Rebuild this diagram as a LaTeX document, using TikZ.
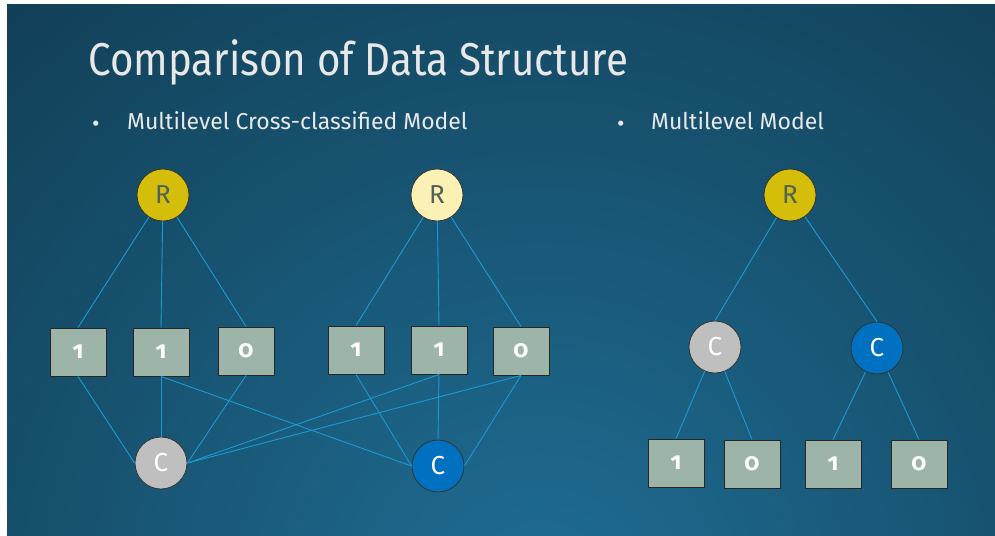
\documentclass[tikz,border=0pt]{standalone}
\usepackage{fontspec}
\setmainfont{Fira Sans}
\newfontfamily\digitfont[Numbers=OldStyle]{Fira Sans}
\definecolor{bgdark}{HTML}{0E3447}
\definecolor{bglight}{HTML}{1F6D94}
\definecolor{edgecol}{HTML}{1A9AD2}
\definecolor{boxfill}{HTML}{9DB5A8}
\definecolor{ryellow}{HTML}{D4BE0A}
\definecolor{rlight}{HTML}{FCF1B4}
\definecolor{cgray}{HTML}{BFBFBF}
\definecolor{cblue}{HTML}{0070C0}
\definecolor{rtext}{HTML}{4F6258}
\definecolor{titletext}{HTML}{E8E8E8}
\tikzset{
  databox/.style={draw=black!85, line width=0.9pt, fill=boxfill, minimum width=56pt, minimum height=48pt, inner sep=0pt, text=white, font=\digitfont\bfseries\fontsize{24}{24}\selectfont},
  rnode/.style={circle, draw=black!80, line width=0.8pt, minimum size=52pt, inner sep=0pt, text=rtext, font=\fontsize{26}{26}\selectfont},
  cnode/.style={rnode, text=white},
  link/.style={draw=edgecol, line width=0.9pt},
  titlestyle/.style={text=titletext, inner sep=0pt, anchor=base west, font=\fontsize{46}{46}\selectfont},
  bulletstyle/.style={text=titletext, inner sep=0pt, anchor=base west, font=\fontsize{23}{23}\selectfont},
}
\begin{document}
\begin{tikzpicture}[x=1pt,y=-1pt]
\useasboundingbox (0,0) rectangle (995,535);
\fill[white] (0,0) rectangle (995,535);
\fill[bgdark] (7,5) rectangle (995,535);
\begin{scope}
  \clip (7,5) rectangle (995,535);
  \shade[inner color=bglight, outer color=bgdark] (540,600) circle (1000pt);
\end{scope}

% texts
\node[titlestyle] (title) at (88,75) {\scalebox{0.876}[1]{Comparison of Data Structure}};
\node[bulletstyle] (b1dot) at (92,131) {•};
\node[bulletstyle] (t1) at (127,129) {Multilevel Cross-classified Model};
\node[bulletstyle] (b2dot) at (617,131) {•};
\node[bulletstyle] (t2) at (651,129) {Multilevel Model};

% group 1
\node[rnode, fill=ryellow] (r1) at (163,195) {R};
\node[databox] (b1) at (78,352) {1};
\node[databox] (b2) at (161,352) {1};
\node[databox] (b3) at (246,351) {0};
\node[cnode, fill=cgray] (g1) at (161,463) {C};

% group 2
\node[rnode, fill=rlight] (r2) at (437,195) {R};
\node[databox] (b4) at (356,350) {1};
\node[databox] (b5) at (439,350) {1};
\node[databox] (b6) at (521,351) {0};
\node[cnode, fill=cblue] (bl1) at (438,466) {C};

% right tree
\node[rnode, fill=ryellow] (r3) at (790,195) {R};
\node[cnode, fill=cgray] (g2) at (715,347) {C};
\node[cnode, fill=cblue] (bl2) at (877,348) {C};
\node[databox] (b7) at (676,463) {1};
\node[databox] (b8) at (752,464) {0};
\node[databox] (b9) at (833,464) {1};
\node[databox] (b10) at (919,464) {0};

% connectors
\draw[link] (r1) -- (b1.north);
\draw[link] (r1) -- (b2.north);
\draw[link] (r1) -- (b3.north);
\draw[link] (b1.south) -- (g1.west);
\draw[link] (b2.south) -- (g1.north);
\draw[link] (b3.south) -- (g1.east);
\draw[link] (b2.south) -- (bl1.west);
\draw[link] (r2) -- (b4.north);
\draw[link] (r2) -- (b5.north);
\draw[link] (r2) -- (b6.north);
\draw[link] (b4.south) -- (bl1.west);
\draw[link] (b5.south) -- (bl1.north);
\draw[link] (b6.south) -- (bl1.east);
\draw[link] (b5.south) -- (g1.east);
\draw[link] (b6.south) -- (g1.east);
\draw[link] (r3) -- (g2.north);
\draw[link] (r3) -- (bl2.north);
\draw[link] (g2) -- (b7.north);
\draw[link] (g2) -- (b8.north);
\draw[link] (bl2) -- (b9.north);
\draw[link] (bl2) -- (b10.north);
\end{tikzpicture}
\end{document}
